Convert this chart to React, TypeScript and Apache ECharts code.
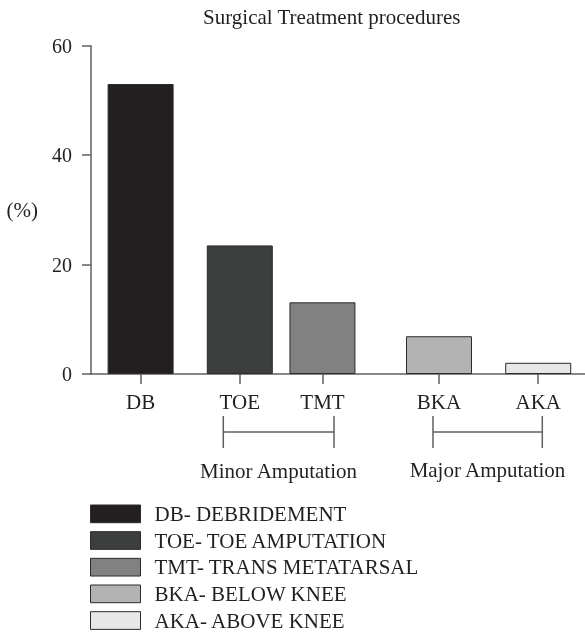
import React, { useEffect, useRef } from "react";
import * as echarts from "echarts";

const categories = ["DB", "TOE", "TMT", "BKA", "AKA"];
const legendNames = [
  "DB- DEBRIDEMENT",
  "TOE- TOE AMPUTATION",
  "TMT- TRANS METATARSAL",
  "BKA- BELOW KNEE",
  "AKA- ABOVE KNEE",
];
const values = [53, 23.5, 13.1, 6.9, 2.05];
// slot positions along the horizontal axis (groups are spaced apart)
const slots = [3, 9, 14, 21.05, 27.05];
const colors = ["#231f20", "#3d3f3e", "#808180", "#b2b3b2", "#e6e7e6"];
const yTicks = [0, 20, 40, 60];
const groupLabels = ["Minor Amputation", "Major Amputation"];

const FONT = "Liberation Serif";
const TEXT = "#231f20";
const AXIS = "#5f5f5f";
const FS = 21;

export default function App() {
  const ref = useRef<HTMLDivElement>(null);
  useEffect(() => {
    if (!ref.current) return;
    const chart = echarts.init(ref.current, null, { renderer: "svg" });
    const series = categories.map((c, i) => ({
      name: legendNames[i],
      type: "bar",
      data: [[slots[i], values[i]]],
      barWidth: 66,
      barGap: "-100%",
      itemStyle: { color: colors[i], borderColor: "#2b2b2b", borderWidth: 1 },
    }));
    const bracketLine = (x1: number, x2: number) => [
      { type: "line", shape: { x1, y1: 416, x2: x1, y2: 448 }, style: { stroke: AXIS, lineWidth: 1.5 } },
      { type: "line", shape: { x1: x2, y1: 416, x2, y2: 448 }, style: { stroke: AXIS, lineWidth: 1.5 } },
      { type: "line", shape: { x1, y1: 432, x2, y2: 432 }, style: { stroke: AXIS, lineWidth: 1.5 } },
    ];
    chart.setOption({
      animation: false,
      title: {
        text: "Surgical Treatment procedures",
        left: 203,
        top: 6,
        padding: 0,
        textStyle: { fontFamily: FONT, fontSize: FS, fontWeight: "normal", color: TEXT },
      },
      grid: { left: 91, right: 0, top: 45.7, bottom: 259, containLabel: false },
      xAxis: {
        type: "value",
        min: 0,
        max: 29.88,
        splitLine: { show: false },
        axisLine: { show: true, lineStyle: { color: AXIS, width: 1.5 } },
        axisTick: { show: true, length: 10, lineStyle: { color: AXIS, width: 1.5 }, customValues: slots },
        axisLabel: {
          customValues: slots,
          margin: 17,
          formatter: (v: number) => {
            const idx = slots.findIndex((s) => Math.abs(s - v) < 1e-6);
            return idx >= 0 ? categories[idx] : "";
          },
          fontFamily: FONT,
          fontSize: FS,
          color: TEXT,
        },
      },
      yAxis: {
        type: "value",
        min: 0,
        max: 60,
        interval: 20,
        name: "(%)",
        nameLocation: "middle",
        nameRotate: 0,
        nameGap: 53,
        nameTextStyle: { fontFamily: FONT, fontSize: FS, color: TEXT },
        splitLine: { show: false },
        axisLine: { show: true, lineStyle: { color: AXIS, width: 1.5 } },
        axisTick: { show: true, length: 9, lineStyle: { color: AXIS, width: 1.5 } },
        axisLabel: {
          margin: 19,
          fontFamily: FONT,
          fontSize: 20,
          color: TEXT,
          customValues: yTicks,
        },
      },
      legend: {
        orient: "vertical",
        left: 90,
        top: 503.35,
        height: 135,
        padding: 0,
        itemWidth: 50,
        itemHeight: 17.7,
        itemGap: 5.67,
        icon: "rect",
        selectedMode: false,
        itemStyle: { borderColor: "#2b2b2b", borderWidth: 1 },
        textStyle: { fontFamily: FONT, fontSize: FS, color: TEXT, padding: [0, 0, 0, 9] },
        data: legendNames,
      },
      graphic: [
        ...bracketLine(223.3, 334),
        ...bracketLine(433, 542.3),
        {
          type: "text",
          x: 278.5,
          y: 471,
          style: { text: groupLabels[0], fontFamily: FONT, fontSize: FS, fill: TEXT, align: "center", verticalAlign: "middle" },
        },
        {
          type: "text",
          x: 487.5,
          y: 470,
          style: { text: groupLabels[1], fontFamily: FONT, fontSize: FS, fill: TEXT, align: "center", verticalAlign: "middle" },
        },
      ],
      series,
    });
    return () => chart.dispose();
  }, []);
  return <div ref={ref} style={{ position: "fixed", left: 0, top: 0, width: 585, height: 633 }} />;
}
